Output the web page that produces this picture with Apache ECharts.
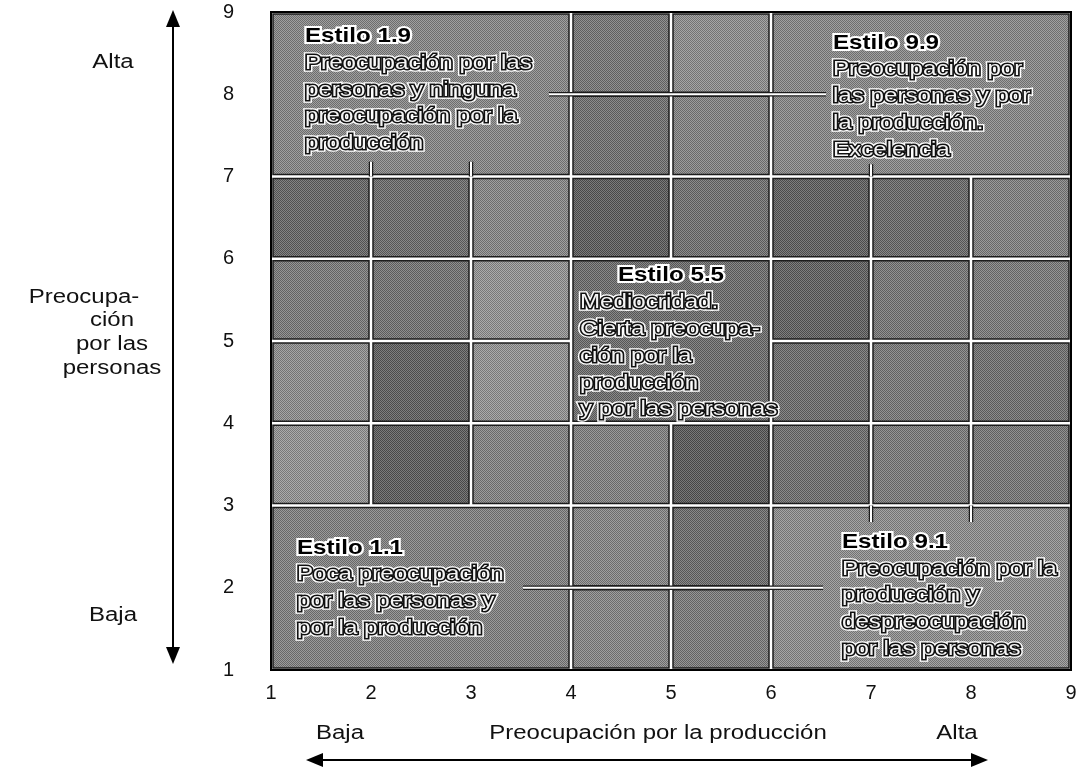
<!DOCTYPE html>
<html>
<head>
<meta charset="utf-8">
<title>Rejilla gerencial</title>
<script src="https://cdn.jsdelivr.net/npm/echarts@6.0.0/dist/echarts.min.js"></script>
<style>
  html, body { margin: 0; padding: 0; background: #fff; }
  #chart { width: 1083px; height: 769px; }
</style>
</head>
<body>
<div id="chart"></div>
<script>
  // escala 1..9 en los dos ejes
  const ticks = [1, 2, 3, 4, 5, 6, 7, 8, 9];

  // celdas de la rejilla: [x0, x1, y0, y1, oscuridad 0-100]
  const cells = [
    [1, 4, 7, 9, 45], [4, 5, 8, 9, 58], [5, 6, 8, 9, 40], [4, 5, 7, 8, 62], [5, 6, 7, 8, 48], [6, 9, 7, 9, 44],
    [1, 2, 6, 7, 70], [2, 3, 6, 7, 66], [3, 4, 6, 7, 45], [4, 5, 6, 7, 78], [5, 6, 6, 7, 62], [6, 7, 6, 7, 76], [7, 8, 6, 7, 68], [8, 9, 6, 7, 50],
    [1, 2, 5, 6, 55], [2, 3, 5, 6, 60], [3, 4, 5, 6, 36], [6, 7, 5, 6, 74], [7, 8, 5, 6, 58], [8, 9, 5, 6, 55],
    [4, 6, 4, 6, 66],
    [1, 2, 4, 5, 40], [2, 3, 4, 5, 74], [3, 4, 4, 5, 36], [6, 7, 4, 5, 66], [7, 8, 4, 5, 56], [8, 9, 4, 5, 62],
    [1, 2, 3, 4, 36], [2, 3, 3, 4, 78], [3, 4, 3, 4, 48], [4, 5, 3, 4, 50], [5, 6, 3, 4, 80], [6, 7, 3, 4, 64], [7, 8, 3, 4, 54], [8, 9, 3, 4, 58],
    [1, 4, 1, 3, 50], [4, 5, 2, 3, 46], [5, 6, 2, 3, 66], [4, 5, 1, 2, 46], [5, 6, 1, 2, 54], [6, 9, 1, 3, 40]
  ];

  // lineas sueltas: horizontales [x0, x1, y] y trozos verticales [x, y0, y1]
  const dividers = [[3.78, 6.55, 8], [3.52, 6.52, 2]];
  const stubs = [[2, 7, 7.18], [3, 7, 7.18], [7, 7, 7.15], [7, 2.8, 3], [8, 2.8, 3]];

  const blockTitles = ['Estilo 1.9', 'Estilo 9.9', 'Estilo 5.5', 'Estilo 1.1', 'Estilo 9.1'];
  const blockLines = [
    ['Preocupación por las', 'personas y ninguna', 'preocupación por la', 'producción'],
    ['Preocupación por', 'las personas y por', 'la producción.', 'Excelencia'],
    ['Mediocridad.', 'Cierta preocupa-', 'ción por la', 'producción', 'y por las personas'],
    ['Poca preocupación', 'por las personas y', 'por la producción'],
    ['Preocupación por la', 'producción y', 'despreocupación', 'por las personas']
  ];
  const titleAnchors = [[1.34, 8.62], [6.62, 8.54], [5.0, 5.71], [1.26, 2.40], [6.71, 2.47]];
  const bodyX = [1.34, 6.62, 4.09, 1.26, 6.71];
  const titleAlign = ['left', 'left', 'center', 'left', 'left'];

  const FONT = "'Liberation Sans', Arial, Helvetica, sans-serif";
  const chart = echarts.init(document.getElementById('chart'));

  // trama fina para imitar el grano de la impresion
  const tile = document.createElement('canvas');
  tile.width = 4; tile.height = 4;
  const g = tile.getContext('2d');
  for (let y = 0; y < 4; y++) {
    for (let x = 0; x < 4; x++) {
      g.fillStyle = (x + y) % 2 ? 'rgba(255,255,255,0.2)' : 'rgba(0,0,0,0.2)';
      g.fillRect(x, y, 1, 1);
    }
  }

  function txt(x, y, s, font, align, fill, stroke, lw, sx) {
    return {
      type: 'text', x: x, y: y, scaleX: sx || 1.15,
      style: {
        text: s, font: font, align: align, verticalAlign: 'middle',
        fill: fill, stroke: stroke, lineWidth: lw || 0, lineJoin: 'round'
      }
    };
  }

  function renderCell(params, api) {
    const a = api.coord([api.value(0), api.value(3)]);
    const b = api.coord([api.value(1), api.value(2)]);
    const inset = 2;
    const shape = { x: a[0] + inset, y: a[1] + inset, width: b[0] - a[0] - 2 * inset, height: b[1] - a[1] - 2 * inset };
    return {
      type: 'group',
      children: [
        { type: 'rect', shape: shape, style: { fill: api.visual('color') } },
        { type: 'rect', shape: shape, style: { fill: { image: tile, repeat: 'repeat' }, stroke: '#1c1c1c', lineWidth: 1.5 } }
      ]
    };
  }

  function renderDivider(params, api) {
    const a = api.coord([api.value(0), api.value(1)]);
    const b = api.coord([api.value(2), api.value(3)]);
    const shape = { x1: a[0], y1: a[1], x2: b[0], y2: b[1] };
    return {
      type: 'group',
      children: [
        { type: 'line', shape: shape, style: { stroke: '#1c1c1c', lineWidth: 4.5 } },
        { type: 'line', shape: shape, style: { stroke: '#fff', lineWidth: 2 } }
      ]
    };
  }

  function renderBlock(params, api) {
    const i = api.value(2);
    const t = api.coord([api.value(0), api.value(1)]);
    const bx = api.coord([bodyX[i], api.value(1)])[0];
    const gap = 26.8;
    const kids = [];
    const head = 'bold 21px ' + FONT;
    const body = '21px ' + FONT;
    kids.push(txt(t[0], t[1] - 7, blockTitles[i], head, titleAlign[i], 'none', '#fff', 4));
    kids.push(txt(t[0], t[1] - 7, blockTitles[i], head, titleAlign[i], '#000', null, 0));
    blockLines[i].forEach(function (line, k) {
      const y = t[1] - 7 + (k + 1) * gap;
      kids.push(txt(bx, y, line, body, 'left', 'none', '#fff', 5.5));
      kids.push(txt(bx, y, line, body, 'left', 'none', '#111', 3));
      kids.push(txt(bx, y, line, body, 'left', '#f4f4f4', null, 0));
    });
    return { type: 'group', children: kids };
  }

  function label(x, y, s) {
    return {
      type: 'text', x: x, y: y, scaleX: 1.2, silent: true,
      style: { text: s, font: '20px ' + FONT, fill: '#111', align: 'center', verticalAlign: 'middle' }
    };
  }

  const option = {
    backgroundColor: '#fff',
    animation: false,
    grid: {
      left: 271, top: 12, right: 12, bottom: 99,
      show: true, borderColor: '#000', borderWidth: 2, backgroundColor: '#fff',
      outerBoundsMode: 'none'
    },
    xAxis: {
      type: 'value', min: ticks[0], max: ticks[ticks.length - 1], interval: 1,
      axisLine: { show: false }, axisTick: { show: false }, splitLine: { show: false },
      axisLabel: { margin: 13, color: '#111', fontSize: 20, fontFamily: FONT }
    },
    yAxis: {
      type: 'value', min: ticks[0], max: ticks[ticks.length - 1], interval: 1,
      axisLine: { show: false }, axisTick: { show: false }, splitLine: { show: false },
      axisLabel: { margin: 37, color: '#111', fontSize: 20, fontFamily: FONT }
    },
    visualMap: {
      show: false, seriesIndex: 0, dimension: 4, min: 0, max: 100,
      inRange: { color: ['#c8c8c8', '#3c3c3c'] }
    },
    series: [
      { type: 'custom', renderItem: renderCell, data: cells, silent: true },
      {
        type: 'custom', renderItem: renderDivider, silent: true,
        data: dividers.map(function (d) { return [d[0], d[2], d[1], d[2]]; })
          .concat(stubs.map(function (s) { return [s[0], s[1], s[0], s[2]]; }))
      },
      {
        type: 'custom', renderItem: renderBlock, silent: true,
        data: titleAnchors.map(function (p, i) { return [p[0], p[1], i]; })
      }
    ],
    graphic: [
      // eje vertical: personas
      { type: 'line', shape: { x1: 173, y1: 22, x2: 173, y2: 652 }, style: { stroke: '#000', lineWidth: 2 } },
      { type: 'polygon', shape: { points: [[173, 10], [166, 27], [180, 27]] }, style: { fill: '#000' } },
      { type: 'polygon', shape: { points: [[173, 664], [166, 647], [180, 647]] }, style: { fill: '#000' } },
      label(113, 62, 'Alta'),
      label(84, 297, 'Preocupa-'),
      label(112, 320, 'ción'),
      label(112, 344, 'por las'),
      label(112, 368, 'personas'),
      label(113, 615, 'Baja'),
      // eje horizontal: produccion
      { type: 'line', shape: { x1: 318, y1: 760, x2: 976, y2: 760 }, style: { stroke: '#000', lineWidth: 2 } },
      { type: 'polygon', shape: { points: [[306, 760], [323, 753], [323, 767]] }, style: { fill: '#000' } },
      { type: 'polygon', shape: { points: [[988, 760], [971, 753], [971, 767]] }, style: { fill: '#000' } },
      label(340, 733, 'Baja'),
      label(658, 733, 'Preocupación por la producción'),
      label(957, 733, 'Alta')
    ]
  };

  chart.setOption(option);
</script>
</body>
</html>
